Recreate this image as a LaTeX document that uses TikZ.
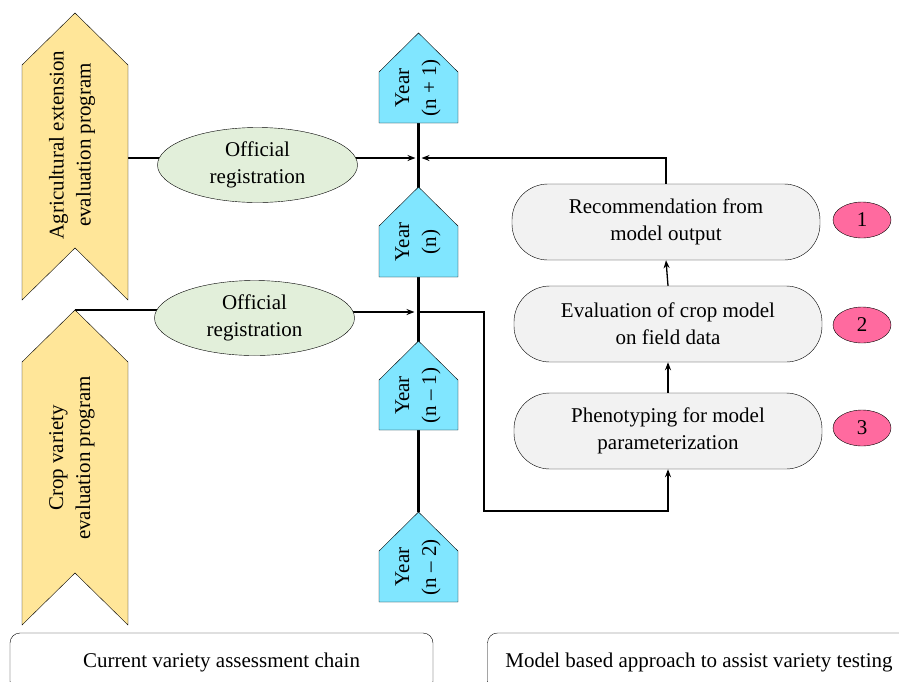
\documentclass[tikz,border=0pt]{standalone}
\usepackage{fontspec}
\setmainfont{Liberation Serif}
\usetikzlibrary{shapes.geometric,backgrounds,arrows.meta}
\definecolor{chevyellow}{HTML}{FFE699}
\definecolor{reggreen}{HTML}{E2EFDA}
\definecolor{yearblue}{HTML}{80E6FF}
\definecolor{boxgray}{HTML}{F2F2F2}
\definecolor{numpink}{HTML}{FF6A9F}
\begin{document}
\begin{tikzpicture}[x=1pt,y=-1pt,>={Stealth[length=8pt,width=6pt]},
    font=\fontsize{21}{27}\selectfont,
    reg/.style={ellipse,draw,fill=reggreen,minimum width=200pt,minimum height=75pt,align=center,inner sep=0pt},
    stepbox/.style={draw,fill=boxgray,rounded corners=36pt,minimum width=308pt,minimum height=76pt,align=center},
    num/.style={ellipse,draw,fill=numpink,minimum width=58pt,minimum height=36pt,inner sep=0pt},
    chainbox/.style={draw,rounded corners=10pt,minimum width=423pt,minimum height=58pt},
    conn/.style={line width=1.3pt}]
\useasboundingbox (0,0) rectangle (899,681);
% programs
\draw[fill=chevyellow](22,65)--(75,13)--(128,65)--(128,300)--(75,248)--(22,300)--cycle;
\node[rotate=90,align=center] (agri) at (72,145) {Agricultural extension\\evaluation program};
\coordinate (agrout) at (128,158);
\draw[fill=chevyellow](22,362)--(75,310)--(128,362)--(128,625)--(75,573)--(22,625)--cycle;
\node[rotate=90,align=center] (crop) at (72,458) {Crop variety\\evaluation program};
\coordinate (croptip) at (75,310);
% registrations
\node[reg] (reg1) at (257.5,165) {Official\\registration};
\node[reg] (reg2) at (254.5,318) {Official\\registration};
% years
\foreach \tip/\bot/\lab/\nm in {33/123/{(n + 1)}/yr1,187/277/{(n)}/yr2,341/430/{(n -- 1)}/yr3,512/602/{(n -- 2)}/yr4}
{
    \draw[fill=yearblue](379,\tip+39)--(418.5,\tip)--(458,\tip+39)--(458,\bot)--(379,\bot)--cycle;
    \coordinate (top\nm) at (418.5,\tip);
    \coordinate (bot\nm) at (418.5,\bot);
    \node[rotate=90,align=center] (\nm) at (418,{(\tip+\bot)/2+10}) {Year\\\lab};
}
\coordinate (t1) at (418.5,158);
\coordinate (t2) at (418.5,312);
\coordinate (bend) at (484,511);
% model approach
\node[stepbox] (rec) at (666,222) {Recommendation from\\model output};
\node[stepbox] (eval) at (668,324) {Evaluation of crop model\\on field data};
\node[stepbox] (pheno) at (668,431) {Phenotyping for model\\parameterization};
\node[num] (n1) at (862,220) {1};
\node[num] (n2) at (862,325) {2};
\node[num] (n3) at (862,428) {3};
% chains
\node[chainbox] (curr) at (221.5,662) {Current variety assessment chain};
\node[chainbox] (model) at (699,662) {Model based approach to assist variety testing};
\begin{scope}[on background layer]
    \draw[line width=3.5pt](botyr1)--(topyr4);
    \draw[conn](agrout)--(agrout -| reg1.center);
    \draw[conn,->](reg1.center |- t1)--([xshift=-3pt]t1);
    \draw[conn,->](rec.north)|-([xshift=3pt]t1);
    \draw[conn](croptip)--(croptip -| reg2.center);
    \draw[conn,->](reg2.center |- t2)--([xshift=-4pt]t2);
    \draw[conn,->](t2)-|(bend)-|(pheno.south);
    \draw[conn,->](pheno.north)--(eval.south);
    \draw[conn,->](eval.north)--(rec.south);
\end{scope}
\end{tikzpicture}
\end{document}
